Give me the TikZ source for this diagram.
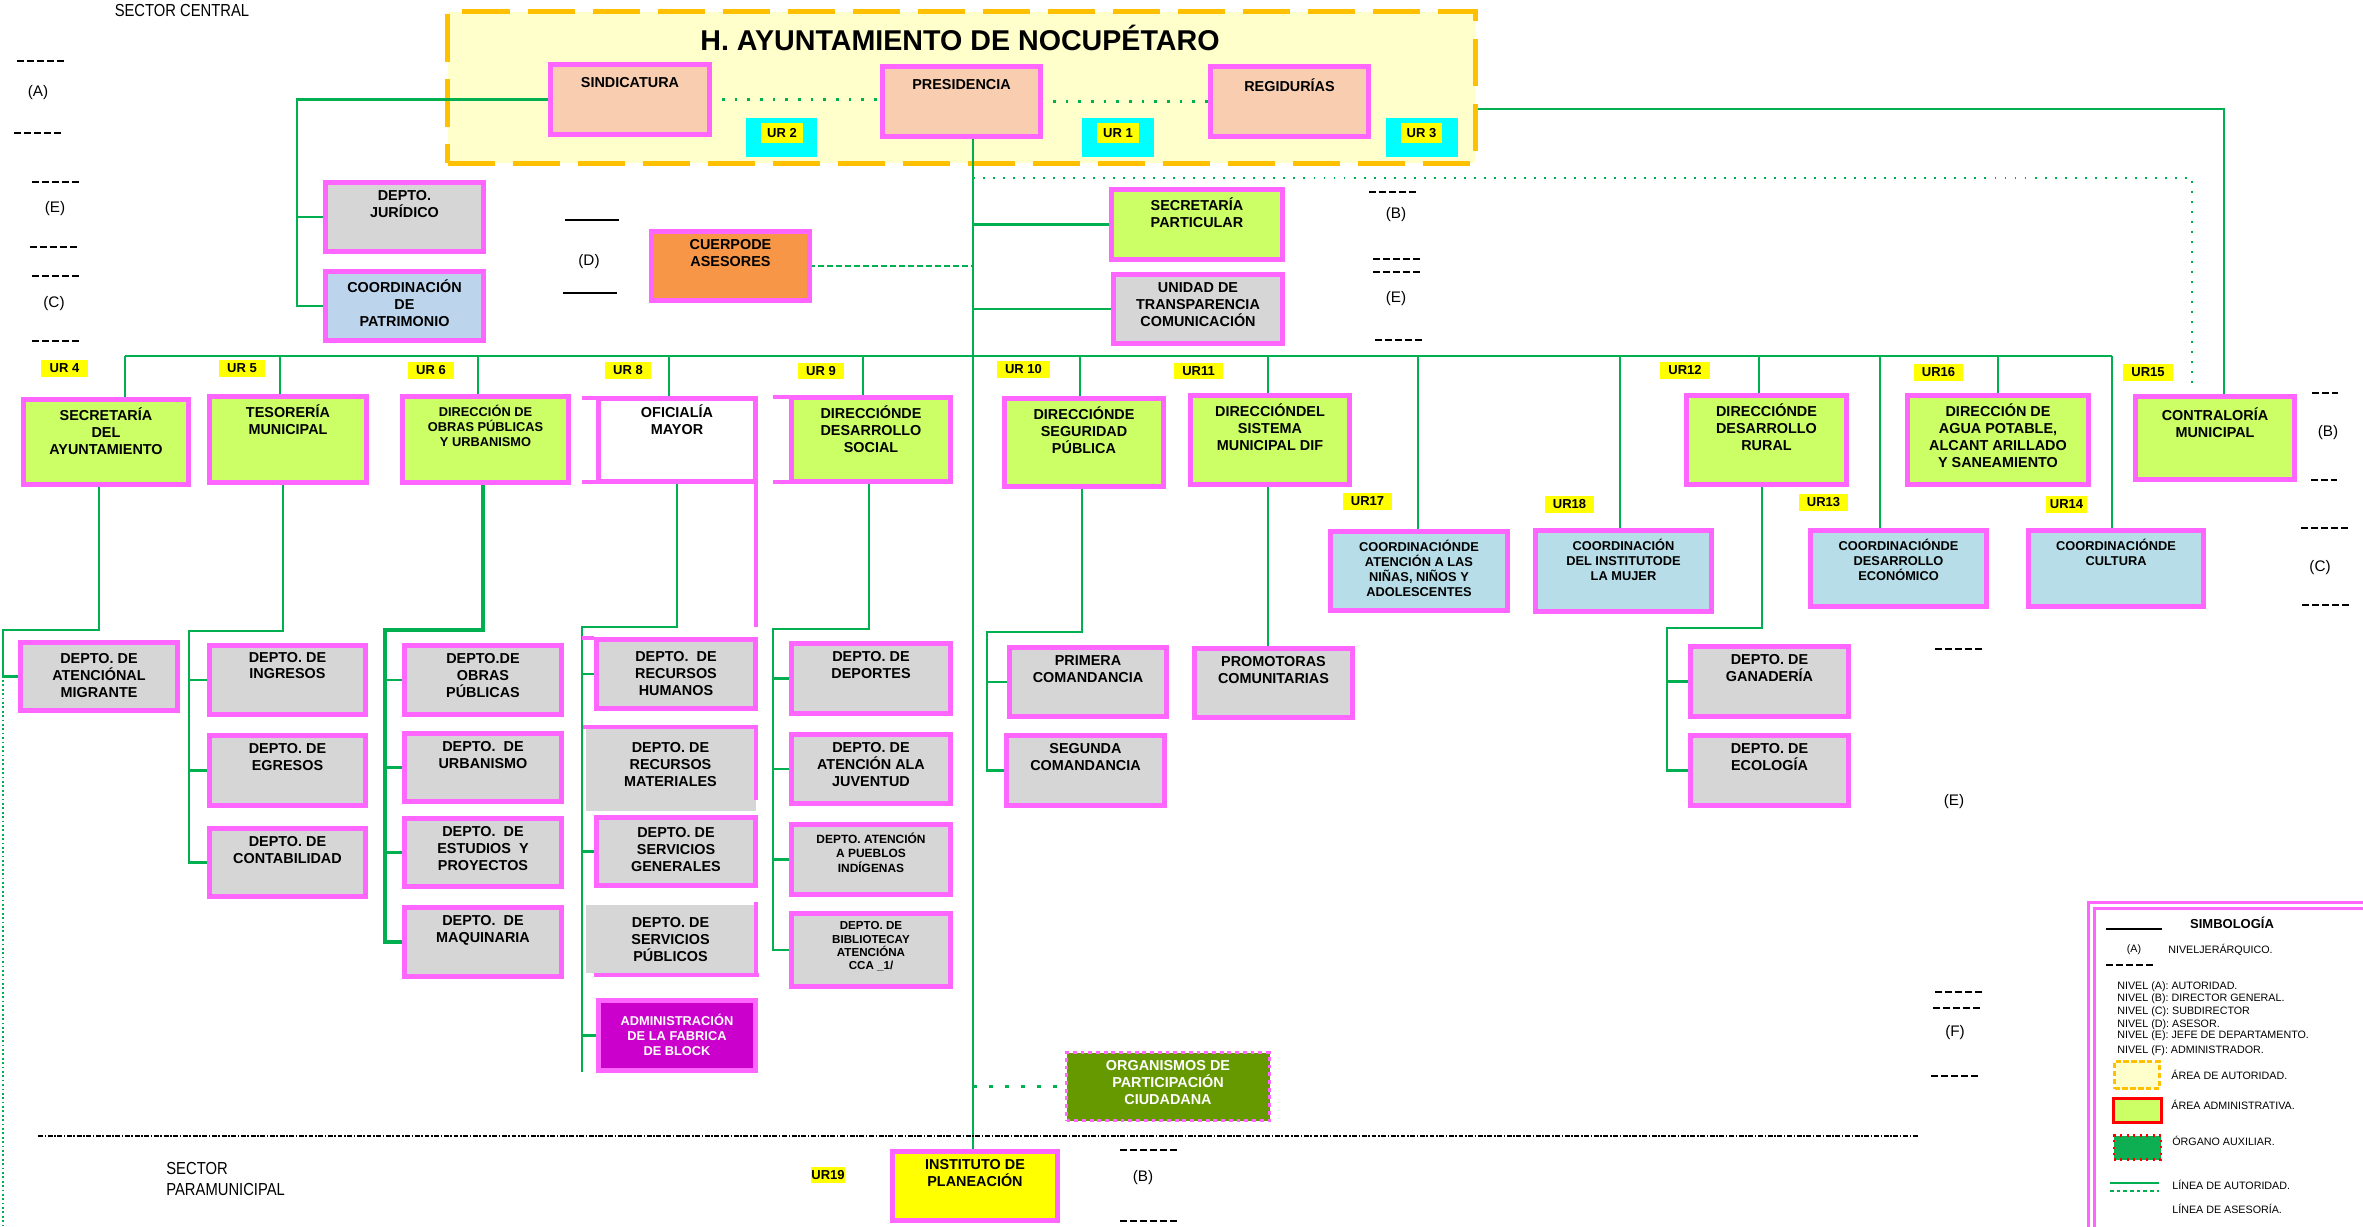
\documentclass[tikz,border=0pt]{standalone}
\usepackage{fontspec}
\usepackage{graphicx}
\setmainfont{Liberation Sans}
\usetikzlibrary{calc}
\pgfdeclarelayer{back}\pgfdeclarelayer{bg}
\pgfsetlayers{back,bg,main}
\definecolor{mag}{HTML}{FF66FF}
\definecolor{peach}{HTML}{F8CDB0}
\definecolor{lime}{HTML}{CCFF66}
\definecolor{gbox}{HTML}{D6D6D6}
\definecolor{pblue}{HTML}{BCD4EC}
\definecolor{cblue}{HTML}{B7DEE8}
\definecolor{orng}{HTML}{F79646}
\definecolor{purp}{HTML}{CC00CC}
\definecolor{olive}{HTML}{669900}
\definecolor{lg}{HTML}{00B050}
\definecolor{authy}{HTML}{FFC000}
\definecolor{authf}{HTML}{FFFFCC}
\definecolor{cyn}{HTML}{00FFFF}
\definecolor{yel}{HTML}{FFFF00}
\definecolor{auxg}{HTML}{0EAF52}
\newcommand\obox[8]{%
 \pgfmathsetmacro\bxX{(#4+#6)/2}%
 \pgfmathsetmacro\bxY{(#5+#7)/2}%
 \pgfmathsetmacro\bxW{(#6-#4)*0.02-0.1}%
 \pgfmathsetmacro\bxH{(#7-#5)*0.02-0.1}%
 \node[#2, minimum width=\bxW cm, minimum height=\bxH cm] (#1) at (\bxX,\bxY) {};%
 \node[tx,#3] (#1t) at ([yshift=-4.5pt]#1.north) {#8};}
\newcommand\urb[6]{%
 \pgfmathsetmacro\bxX{(#2+#4)/2}%
 \pgfmathsetmacro\bxY{(#3+#5)/2}%
 \pgfmathsetmacro\bxW{(#4-#2)*0.02}%
 \pgfmathsetmacro\bxH{(#5-#3)*0.02}%
 \node[ur, minimum width=\bxW cm, minimum height=\bxH cm] (#1) at (\bxX,\bxY) {#6};}
\begin{document}
\begin{tikzpicture}[x=0.02cm,y=-0.02cm]
\tikzset{
 gl/.style={draw=lg, line width=1.3pt},
 bxs/.style={draw=mag, line width=2.8pt, inner sep=0, outer sep=0},
 peachbox/.style={bxs, fill=peach},
 limebox/.style={bxs, fill=lime},
 graybox/.style={bxs, fill=gbox},
 whitebox/.style={bxs, fill=white},
 patbox/.style={bxs, fill=pblue},
 coordbox/.style={bxs, fill=cblue},
 orbox/.style={bxs, fill=orng},
 purbox/.style={bxs, fill=purp},
 yelbox/.style={bxs, fill=yel},
 grayplain/.style={fill=gbox, inner sep=0, outer sep=0},
 orgbox/.style={draw=mag, line width=2.2pt, dash pattern=on 2.2pt off 2.2pt, fill=olive, inner sep=0, outer sep=0},
 tx/.style={anchor=north, align=center, inner sep=0, font=\bfseries\fontsize{8.2}{9.6}\selectfont},
 txs/.style={font=\bfseries\fontsize{7.3}{8.7}\selectfont},
 txp/.style={font=\bfseries\fontsize{6.8}{8.2}\selectfont},
 txb/.style={font=\bfseries\fontsize{6.6}{7.5}\selectfont},
 ur/.style={fill=yel, inner sep=0, font=\bfseries\fontsize{7.4}{8}\selectfont},
 mk/.style={font=\fontsize{8.7}{10}\selectfont, inner sep=0},
 lvl/.style={line width=1.1pt, dash pattern=on 3.97pt off 1.7pt},
 lvs/.style={line width=1.1pt},
 dotg/.style={draw=lg, line width=1.7pt, dash pattern=on 1.5pt off 5.7pt},
 dotg2/.style={draw=lg, line width=1.2pt, dash pattern=on 1.1pt off 4.6pt},
 dotg3/.style={draw=lg, line width=2pt, dash pattern=on 2.3pt off 6.8pt},
 dotg4/.style={draw=lg, line width=1pt, dash pattern=on 1pt off 1.5pt},
 lgt/.style={anchor=west, inner sep=0, font=\fontsize{6.1}{7}\selectfont},
 magl/.style={draw=mag, line width=2.8pt},
}
\useasboundingbox (0,0) rectangle (2363,1227);

% ---------- authority area ----------
\begin{pgfonlayer}{back}
\node[draw=authy, fill=authf, line width=2.8pt, dash pattern=on 27pt off 10pt, minimum width=20.56cm, minimum height=3.04cm, inner sep=0] (auth) at (961.5,87.5) {};
\end{pgfonlayer}
\node[font=\bfseries\fontsize{16.3}{18}\selectfont, inner sep=0] (title) at (960,38) {H. AYUNTAMIENTO DE NOCUPÉTARO};
\node[inner sep=0, font=\fontsize{9.9}{11}\selectfont] (sc) at (182,11) {\scalebox{0.85}[1]{SECTOR CENTRAL}};

\obox{sind}{peachbox}{tx,yshift=-2.5pt}{548}{62}{712}{137}{SINDICATURA}
\obox{pres}{peachbox}{tx,yshift=-2.5pt}{880}{64}{1043}{139}{PRESIDENCIA}
\obox{regi}{peachbox}{tx,yshift=-2.5pt}{1208}{64}{1371}{139}{REGIDURÍAS}
\node[fill=cyn, minimum width=1.42cm, minimum height=0.78cm, inner sep=0] (cy2) at (781.5,137.5) {};
\node[fill=cyn, minimum width=1.44cm, minimum height=0.78cm, inner sep=0] (cy1) at (1118,137.5) {};
\node[fill=cyn, minimum width=1.44cm, minimum height=0.78cm, inner sep=0] (cy3) at (1422,137.5) {};
\urb{ur2}{761}{123}{803}{143}{UR 2}
\urb{ur1}{1097}{123}{1139}{143}{UR 1}
\urb{ur3}{1401}{123}{1442}{143}{UR 3}

% ---------- staff ----------
\obox{jur}{graybox}{tx}{323}{180}{486}{254}{DEPTO.\\JURÍDICO}
\obox{patr}{patbox}{tx}{323}{269}{486}{343}{COORDINACIÓN\\DE\\PATRIMONIO}
\obox{ases}{orbox}{tx}{649}{229}{812}{303}{CUERPODE\\ASESORES}
\obox{secp}{limebox}{tx}{1109}{187}{1285}{262}{SECRETARÍA\\PARTICULAR}
\obox{unid}{graybox}{tx}{1111}{272}{1285}{346}{UNIDAD DE\\TRANSPARENCIA\\COMUNICACIÓN}

% ---------- directions ----------
\obox{secay}{limebox}{tx}{21}{397}{191}{487}{SECRETARÍA\\DEL\\AYUNTAMIENTO}
\obox{teso}{limebox}{tx}{207}{394}{369}{485}{TESORERÍA\\MUNICIPAL}
\obox{obras}{limebox}{tx,txs}{400}{394}{571}{485}{DIRECCIÓN DE\\OBRAS PÚBLICAS\\Y URBANISMO}
\obox{ofic}{whitebox}{tx,yshift=1pt}{596}{396}{758}{484}{OFICIALÍA\\MAYOR}
\obox{dsoc}{limebox}{tx}{789}{395}{953}{484}{DIRECCIÓNDE\\DESARROLLO\\SOCIAL}
\obox{segp}{limebox}{tx}{1002}{396}{1166}{489}{DIRECCIÓNDE\\SEGURIDAD\\PÚBLICA}
\obox{dif}{limebox}{tx}{1188}{393}{1352}{487}{DIRECCIÓNDEL\\SISTEMA\\MUNICIPAL DIF}
\obox{rural}{limebox}{tx}{1684}{393}{1849}{487}{DIRECCIÓNDE\\DESARROLLO\\RURAL}
\obox{agua}{limebox}{tx}{1905}{393}{2091}{487}{DIRECCIÓN DE\\AGUA POTABLE,\\ALCANT ARILLADO\\Y SANEAMIENTO}
\obox{contr}{limebox}{tx,yshift=-1.7pt}{2133}{394}{2297}{482}{CONTRALORÍA\\MUNICIPAL}
\obox{cnin}{coordbox}{tx,txs}{1328}{529}{1510}{613}{COORDINACIÓNDE\\ATENCIÓN A LAS\\NIÑAS, NIÑOS Y\\ADOLESCENTES}
\obox{cmuj}{coordbox}{tx,txs}{1533}{528}{1714}{614}{COORDINACIÓN\\DEL INSTITUTODE\\LA MUJER}
\obox{ceco}{coordbox}{tx,txs}{1808}{528}{1989}{609}{COORDINACIÓNDE\\DESARROLLO\\ECONÓMICO}
\obox{ccul}{coordbox}{tx,txs}{2026}{528}{2206}{609}{COORDINACIÓNDE\\CULTURA}

\urb{u4}{41}{360}{88}{377}{UR 4}
\urb{u5}{219}{360}{265}{377}{UR 5}
\urb{u6}{408}{362}{454}{379}{UR 6}
\urb{u8}{605}{362}{651}{379}{UR 8}
\urb{u9}{798}{363}{844}{379}{UR 9}
\urb{u10}{997}{361}{1050}{378}{UR 10}
\urb{u11}{1174}{363}{1223}{379}{UR11}
\urb{u17}{1343}{493}{1392}{510}{UR17}
\urb{u18}{1545}{496}{1594}{513}{UR18}
\urb{u12}{1660}{362}{1710}{379}{UR12}
\urb{u13}{1799}{494}{1848}{511}{UR13}
\urb{u16}{1914}{364}{1963}{381}{UR16}
\urb{u14}{2046}{496}{2087}{513}{UR14}
\urb{u15}{2123}{364}{2173}{381}{UR15}
\urb{u19}{811}{1167}{845}{1183}{UR19}

% ---------- departments ----------
\obox{migr}{graybox}{tx,yshift=-1.7pt}{18}{640}{180}{713}{DEPTO. DE\\ATENCIÓNAL\\MIGRANTE}
\obox{ingr}{graybox}{tx,yshift=1pt}{207}{643}{368}{717}{DEPTO. DE\\INGRESOS}
\obox{egre}{graybox}{tx}{207}{733}{368}{808}{DEPTO. DE\\EGRESOS}
\obox{cont}{graybox}{tx}{207}{826}{368}{899}{DEPTO. DE\\CONTABILIDAD}
\obox{dobp}{graybox}{tx}{402}{643}{564}{717}{DEPTO.DE\\OBRAS\\PÚBLICAS}
\obox{urba}{graybox}{tx}{402}{731}{564}{804}{DEPTO.~ DE\\URBANISMO}
\obox{estu}{graybox}{tx}{402}{816}{564}{889}{DEPTO.~ DE\\ESTUDIOS~ Y\\PROYECTOS}
\obox{maqu}{graybox}{tx}{402}{905}{564}{979}{DEPTO.~ DE\\MAQUINARIA}
\obox{rhum}{graybox}{tx,yshift=-2.3pt}{594}{637}{758}{711}{DEPTO.~ DE\\RECURSOS\\HUMANOS}
\obox{rmat}{grayplain}{tx,yshift=-4pt}{583}{725}{758}{813}{DEPTO. DE\\RECURSOS\\MATERIALES}
\obox{sgen}{graybox}{tx,yshift=-1.1pt}{594}{815}{758}{888}{DEPTO. DE\\SERVICIOS\\GENERALES}
\obox{spub}{grayplain}{tx,yshift=-2.8pt}{583}{902}{758}{975}{DEPTO. DE\\SERVICIOS\\PÚBLICOS}
\obox{fabr}{purbox}{tx,txs,text=white,yshift=-2.8pt}{596}{998}{758}{1073}{ADMINISTRACIÓN\\DE LA FABRICA\\DE BLOCK}
\obox{depo}{graybox}{tx}{789}{641}{953}{716}{DEPTO. DE\\DEPORTES}
\obox{juve}{graybox}{tx}{789}{732}{953}{806}{DEPTO. DE\\ATENCIÓN ALA\\JUVENTUD}
\obox{pueb}{graybox}{tx,txp}{789}{822}{953}{897}{DEPTO. ATENCIÓN\\A PUEBLOS\\INDÍGENAS}
\obox{bibl}{graybox}{tx,txb}{789}{911}{953}{989}{DEPTO. DE\\BIBLIOTECAY\\ATENCIÓNA\\CCA \_1/}
\obox{prim}{graybox}{tx}{1007}{645}{1169}{719}{PRIMERA\\COMANDANCIA}
\obox{segu}{graybox}{tx}{1004}{733}{1167}{808}{SEGUNDA\\COMANDANCIA}
\obox{prom}{graybox}{tx}{1192}{646}{1355}{720}{PROMOTORAS\\COMUNITARIAS}
\obox{gana}{graybox}{tx}{1688}{644}{1851}{719}{DEPTO. DE\\GANADERÍA}
\obox{ecol}{graybox}{tx}{1688}{733}{1851}{808}{DEPTO. DE\\ECOLOGÍA}
\obox{orga}{orgbox}{tx,text=white}{1064}{1050}{1272}{1123}{ORGANISMOS DE\\PARTICIPACIÓN\\CIUDADANA}
\obox{inst}{yelbox}{tx}{890}{1149}{1060}{1223}{INSTITUTO DE\\PLANEACIÓN}

% magenta fragments
\draw[magl] (582,398) -- (596,398) (582,482) -- (596,482);
\draw[magl, line width=2.2pt] (756,484) -- (756,627);
\draw[magl] (773,397) -- (789,397) (773,482) -- (789,482);
\draw[magl] (582,638) -- (594,638);
\draw[magl] (583,727) -- (758,727) (756,725) -- (756,800);
\draw[magl] (756,902) -- (756,977) (594,975) -- (759,975);

% ---------- connectors ----------
\begin{pgfonlayer}{bg}
\draw[gl] (sind.west) -| (297,0 |- patr.west) -- (patr.west);
\draw[gl] (297,0 |- jur.west) -- (jur.west);
\draw[dotg] (sind.east) -- (sind.east -| pres.west);
\draw[dotg] (pres.east) -- (pres.east -| regi.west);
\draw[gl] (pres.south -| 973,0) -- (inst.north -| 973,0);
\draw[gl] (973,0 |- secp.west) -- (secp.west);
\draw[gl] (973,0 |- unid.west) -- (unid.west);
\draw[draw=lg, line width=1.3pt, dash pattern=on 3.4pt off 1.7pt] (ases.east) -- (973,0 |- ases.east);
\coordinate (cR) at (1478,109);
\draw[gl] (cR) -| ($(contr.north)+(9,0)$);
\coordinate (advR) at (2192,385);
\draw[dotg2] (973,178) -| (advR);
\draw[dotg3] (973,0 |- orga.west) -- (orga.west);
\coordinate (busL) at (125,356);
\coordinate (busR) at (2112,356);
\draw[gl] (busL) -- (busR);
\foreach \n/\xx in {secay/125, teso/280, obras/478, ofic/669, dsoc/863, segp/1080, dif/1268, cnin/1418, cmuj/1620, rural/1759, ceco/1880, agua/1998, ccul/2112}
  \draw[gl] (\n.north -| \xx,0) -- (\xx,356);
\draw[gl] (secay.south -| 99,0) -- (99,630) -- (3,630) |- (migr.west);
\coordinate (lbot) at (3,1225);
\draw[dotg4] (3,680) -- (lbot);
\draw[gl] (teso.south -| 283,0) -- (283,631) -- (189,631) |- (cont.west);
\foreach \n in {ingr,egre} \draw[gl] (189,0 |- \n.west) -- (\n.west);
\draw[gl, line width=2pt] (obras.south -| 483,0) -- (483,630) -- (385,630) |- (maqu.west);
\foreach \n in {dobp,urba,estu} \draw[gl] (385,0 |- \n.west) -- (\n.west);
\draw[gl] (ofic.south -| 677,0) -- (677,627) -- (582,627) -- (582,1072);
\foreach \n in {rhum,sgen,fabr} \draw[gl] (582,0 |- \n.west) -- (\n.west);
\draw[gl] (dsoc.south -| 869,0) -- (869,629) -- (773,629) |- (bibl.west);
\foreach \n in {depo,juve,pueb} \draw[gl] (773,0 |- \n.west) -- (\n.west);
\draw[gl] (segp.south -| 1082,0) -- (1082,632) -- (987,632) |- (segu.west);
\draw[gl] (987,0 |- prim.west) -- (prim.west);
\draw[gl] (dif.south -| 1268,0) -- (prom.north -| 1268,0);
\draw[gl] (rural.south -| 1762,0) -- (1762,628) -- (1667,628) |- (ecol.west);
\draw[gl] (1667,0 |- gana.west) -- (gana.west);
\end{pgfonlayer}

% ---------- level markers ----------
\draw[lvl] (17,61) -- (65,61);   \draw[lvl] (14,133) -- (63,133);
\draw[lvl] (32,182) -- (81,182); \draw[lvl] (30,247) -- (78,247);
\draw[lvl] (32,276) -- (80,276); \draw[lvl] (32,341) -- (80,341);
\draw[lvs] (565,220) -- (619,220); \draw[lvs] (563,293) -- (617,293);
\draw[lvl] (1369,192) -- (1418,192); \draw[lvl] (1373,259) -- (1421,259);
\draw[lvl] (1373,272) -- (1421,272); \draw[lvl] (1375,340) -- (1423,340);
\draw[lvl] (2312,393) -- (2338,393); \draw[lvl] (2311,480) -- (2337,480);
\draw[lvl] (2301,528) -- (2349,528); \draw[lvl] (2302,605) -- (2351,605);
\draw[lvl] (1935,649) -- (1983,649);
\draw[lvl] (1935,992) -- (1983,992); \draw[lvl] (1933,1008) -- (1981,1008);
\draw[lvl] (1931,1076) -- (1980,1076);
\draw[lvl] (1120,1150) -- (1177,1150); \draw[lvl] (1120,1221) -- (1177,1221);
\node[mk] (mA) at (38,93) {(A)};
\node[mk] (mE1) at (55,209) {(E)};
\node[mk] (mC1) at (54,304) {(C)};
\node[mk] (mD) at (589,262) {(D)};
\node[mk] (mB1) at (1396,215) {(B)};
\node[mk] (mE2) at (1396,299) {(E)};
\node[mk] (mB2) at (2328,433) {(B)};
\node[mk] (mC2) at (2320,568) {(C)};
\node[mk] (mE3) at (1954,802) {(E)};
\node[mk] (mF) at (1955,1033) {(F)};
\node[mk] (mB3) at (1143,1178) {(B)};

% ---------- paramunicipal ----------
\draw[line width=1.1pt, dash pattern=on 2.8pt off 0.9pt on 0.9pt off 0.9pt] (38,1136) -- (1918,1136);
\node[anchor=west, align=left, inner sep=0, font=\fontsize{9.9}{12.4}\selectfont] (sp) at (166,1179) {\scalebox{0.85}[1]{SECTOR}\\\scalebox{0.85}[1]{PARAMUNICIPAL}};

% ---------- legend ----------
\draw[draw=mag, line width=1.7pt] (2088,1227) -- (2088,902) -- (2363,902);
\draw[draw=mag, line width=1.7pt] (2094,1227) -- (2094,908) -- (2363,908);
\node[inner sep=0, font=\bfseries\fontsize{7.4}{8}\selectfont] (simb) at (2232,923) {SIMBOLOGÍA};
\draw[line width=1.1pt] (2106,929) -- (2162,929);
\node[inner sep=0, font=\fontsize{6.1}{7}\selectfont] (lA) at (2134,950) {(A)};
\node[lgt] (lnj) at (2168,950) {NIVELJERÁRQUICO.};
\draw[lvl] (2106,965) -- (2154,965);
\node[lgt] (n1) at (2117,987) {NIVEL (A): AUTORIDAD.};
\node[lgt] (n2) at (2117,999) {NIVEL (B): DIRECTOR GENERAL.};
\node[lgt] (n3) at (2117,1012) {NIVEL (C): SUBDIRECTOR};
\node[lgt] (n4) at (2117,1025) {NIVEL (D): ASESOR.};
\node[lgt] (n5) at (2117,1036) {NIVEL (E): JEFE DE DEPARTAMENTO.};
\node[lgt] (n6) at (2117,1051) {NIVEL (F): ADMINISTRADOR.};
\node[draw=authy, fill=authf, line width=1.2pt, dash pattern=on 3pt off 1.5pt, minimum width=0.9cm, minimum height=0.54cm, inner sep=0] (lg1) at (2137,1075) {};
\node[lgt] (lg1t) at (2171,1075) {ÁREA DE AUTORIDAD.};
\node[draw=red, fill=lime, line width=1.5pt, minimum width=0.95cm, minimum height=0.47cm, inner sep=0] (lg2) at (2137.5,1110.5) {};
\node[lgt] (lg2t) at (2171,1105) {ÁREA ADMINISTRATIVA.};
\node[draw=red, fill=auxg, line width=1.2pt, dash pattern=on 1.2pt off 2.5pt, minimum width=0.95cm, minimum height=0.48cm, inner sep=0] (lg3) at (2137.5,1147.5) {};
\node[lgt] (lg3t) at (2172,1141) {ÓRGANO AUXILIAR.};
\draw[draw=lg, line width=1.6pt] (2110,1183) -- (2159,1183);
\draw[draw=lg, line width=0.8pt, dash pattern=on 2pt off 1.8pt] (2110,1191) -- (2159,1191);
\node[lgt] (lg4t) at (2172,1185) {LÍNEA DE AUTORIDAD.};
\node[lgt] (lg5t) at (2172,1209) {LÍNEA DE ASESORÍA.};
\end{tikzpicture}
\end{document}
